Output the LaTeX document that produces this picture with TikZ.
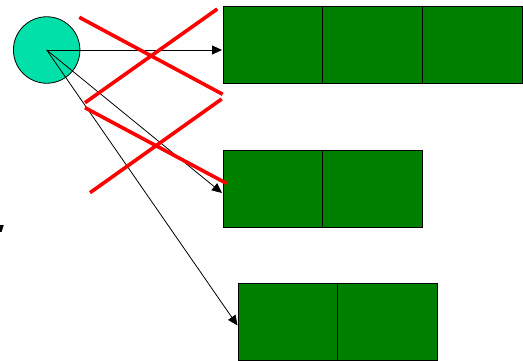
\documentclass[tikz,border=0pt]{standalone}
\usetikzlibrary{arrows.meta}
\definecolor{cellgreen}{RGB}{0,128,0}
\definecolor{circfill}{RGB}{0,224,168}
\definecolor{crossred}{RGB}{255,0,0}
\tikzset{
  cell/.style={draw=black, line width=1.1pt, fill=cellgreen, inner sep=0pt, minimum width=100pt, minimum height=77pt, anchor=north west},
  circ/.style={circle, draw=black, line width=0.8pt, fill=circfill, inner sep=0pt, minimum size=66.5pt},
  arr/.style={draw=black, line width=0.8pt, -{Triangle[length=10pt,width=9pt]}},
  cross/.style={draw=crossred, line width=3.6pt},
}
\begin{document}
\begin{tikzpicture}[x=1pt,y=-1pt]
\useasboundingbox (0,0) rectangle (523,361);
% boxes
\node[cell] (r1a) at (222.5,6) {};
\node[cell] (r1b) at (322.2,6) {};
\node[cell] (r1c) at (421.9,6) {};
\node[cell] (r2a) at (222.5,150) {};
\node[cell] (r2b) at (322.2,150) {};
\node[cell] (r3a) at (237.5,283) {};
\node[cell] (r3b) at (337,283) {};
% circle
\node[circ] (c) at (46.7,50) {};
% arrow targets
\coordinate (t1) at (222,50);
\coordinate (t2) at (222,193);
\coordinate (t3) at (237.5,325.5);
\draw[arr] (c.center) -- (t1);
\draw[arr] (c.center) -- (t2);
\draw[arr] (c.center) -- (t3);
% red crosses
\coordinate (a1) at (79.3,17.3);
\coordinate (a2) at (222.7,94.3);
\coordinate (b1) at (217.3,9);
\coordinate (b2) at (85,102.7);
\coordinate (d1) at (85,107.7);
\coordinate (d2) at (226.7,183.5);
\coordinate (e1) at (221.7,99);
\coordinate (e2) at (90,192.7);
\draw[cross] (a1) -- (a2);
\draw[cross] (b1) -- (b2);
\draw[cross] (d1) -- (d2);
\draw[cross] (e1) -- (e2);
% cropped glyph fragment at left edge
\fill[black] (0,225) -- (3.8,225) -- (1.6,231.8) -- (0,231.8) -- cycle;
\end{tikzpicture}
\end{document}
